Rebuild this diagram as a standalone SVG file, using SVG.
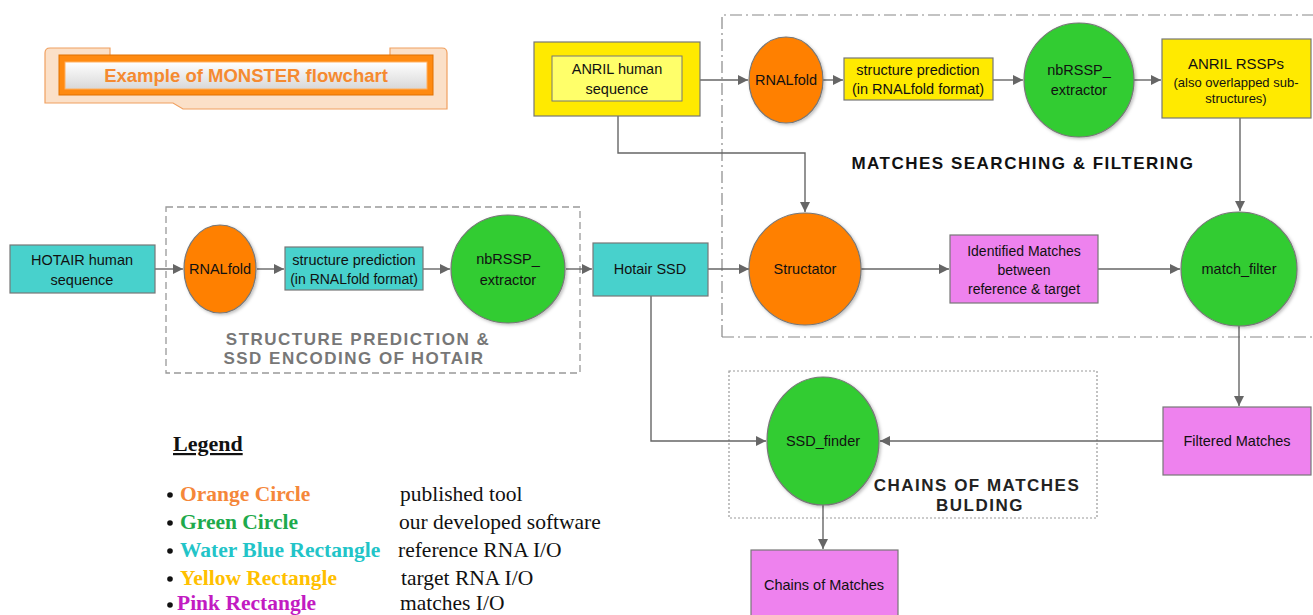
<svg xmlns="http://www.w3.org/2000/svg" width="1313" height="615" viewBox="0 0 1313 615">
<defs>
<marker id="arr" viewBox="0 0 10 10" refX="10" refY="5" markerWidth="10" markerHeight="10" markerUnits="userSpaceOnUse" orient="auto">
<path d="M0,0 L10,5 L0,10 z" fill="#666"/>
</marker>
<linearGradient id="gw" x1="0" y1="0" x2="0" y2="1">
<stop offset="0" stop-color="#ffffff"/>
<stop offset="1" stop-color="#d8d8d8"/>
</linearGradient>
<filter id="sh" x="-20%" y="-20%" width="140%" height="140%">
<feDropShadow dx="1.5" dy="1.5" stdDeviation="1.5" flood-color="#000" flood-opacity="0.25"/>
</filter>
</defs>
<style>
.t{font-family:"Liberation Sans",Arial,sans-serif;font-size:14.5px;fill:#111;text-anchor:middle}
.box{stroke:#777;stroke-width:1.2}
.cy{fill:#48d1cc}
.ye{fill:#ffea00}
.pk{fill:#ee82ee}
.or{fill:#ff8000;stroke:#777;stroke-width:1.2;filter:url(#sh)}
.gr{fill:#33cc33;stroke:#777;stroke-width:1.2;filter:url(#sh)}
.ca{fill:none;stroke:#666;stroke-width:1.4;marker-end:url(#arr)}
.grp{font-family:"Liberation Sans",Arial,sans-serif;font-weight:bold;font-size:17px;letter-spacing:1.5px;text-anchor:middle}
.lg{font-family:"Liberation Serif","Times New Roman",serif;font-size:21.5px}
.lb{font-weight:bold}
</style>
<rect width="1313" height="615" fill="#ffffff"/>

<!-- title banner -->
<g id="title">
<path d="M50,48 H110 V56 H390 V48 H442 Q447,48 447,53 V109 H183 L173,103 H45 V53 Q45,48 50,48 Z" fill="#fbe0c8" stroke="#f0a060" stroke-width="1.2"/>
<rect x="59" y="55" width="374" height="40" fill="#ff8a10" stroke="#e07000" stroke-width="1"/>
<rect x="65" y="62" width="362" height="27" fill="url(#gw)" stroke="#ffb060" stroke-width="1"/>
<text x="246" y="82" font-family="Liberation Sans,Arial,sans-serif" font-weight="bold" font-size="18.5" fill="#f58a30" text-anchor="middle">Example of MONSTER flowchart</text>
</g>

<!-- group frames -->
<g id="frames">
<rect x="166" y="207" width="414" height="166" fill="none" stroke="#999" stroke-width="1.3" stroke-dasharray="7,4"/>
<text class="grp" x="358" y="345" fill="#777">STRUCTURE PREDICTION &amp;</text>
<text class="grp" x="354" y="364" fill="#777">SSD ENCODING OF HOTAIR</text>
<path d="M722,337 V15 H1313 M722,337 H1313" fill="none" stroke="#888" stroke-width="1.2" stroke-dasharray="12,4,2,4"/>
<text class="grp" x="1023" y="169" fill="#111">MATCHES SEARCHING &amp; FILTERING</text>
<rect x="729" y="371" width="368" height="147" fill="none" stroke="#999" stroke-width="1.2" stroke-dasharray="2,2"/>
<text class="grp" x="977" y="491" fill="#222">CHAINS OF MATCHES</text>
<text class="grp" x="980" y="511" fill="#222">BULDING</text>
</g>

<!-- connectors -->
<g id="connectors">
<line class="ca" x1="155" y1="269" x2="183" y2="269"/>
<line class="ca" x1="257" y1="269" x2="284" y2="269"/>
<line class="ca" x1="423" y1="269" x2="450" y2="269"/>
<line class="ca" x1="566" y1="269" x2="592" y2="269"/>
<line class="ca" x1="708" y1="269" x2="749" y2="269"/>
<line class="ca" x1="861" y1="269" x2="949" y2="269"/>
<line class="ca" x1="1098" y1="269" x2="1180" y2="269"/>
<line class="ca" x1="700" y1="80" x2="748" y2="80"/>
<line class="ca" x1="823" y1="80" x2="843" y2="80"/>
<line class="ca" x1="993" y1="80" x2="1023" y2="80"/>
<line class="ca" x1="1134" y1="80" x2="1161" y2="80"/>
<polyline class="ca" points="1240,118 1240,211"/>
<polyline class="ca" points="618,116 618,153 805,153 805,212"/>
<polyline class="ca" points="1239,326 1239,406"/>
<line class="ca" x1="1163" y1="441" x2="880" y2="441"/>
<polyline class="ca" points="651,296 651,441 766,441"/>
<line class="ca" x1="823" y1="505" x2="823" y2="549"/>
</g>

<!-- HOTAIR row -->
<g id="hotair_seq">
<rect class="box cy" x="10" y="245" width="145" height="48"/>
<text class="t" x="82" y="265">HOTAIR human</text>
<text class="t" x="82" y="285">sequence</text>
</g>
<g id="rnalfold_hotair">
<ellipse class="or" cx="220" cy="269" rx="36" ry="44"/>
<text class="t" x="220" y="274">RNALfold</text>
</g>
<g id="struct_pred_hotair">
<rect class="box cy" x="285" y="247" width="138" height="43"/>
<text class="t" x="354" y="265">structure prediction</text>
<text class="t" x="354" y="284" style="font-size:14px">(in RNALfold format)</text>
</g>
<g id="nbrssp_hotair">
<ellipse class="gr" cx="508" cy="269" rx="57" ry="54"/>
<text class="t" x="508" y="264">nbRSSP_</text>
<text class="t" x="508" y="285">extractor</text>
</g>
<g id="hotair_ssd">
<rect class="box cy" x="593" y="243" width="115" height="53"/>
<text class="t" x="650" y="274">Hotair SSD</text>
</g>

<!-- ANRIL row -->
<g id="anril_seq">
<rect class="box ye" x="534" y="42" width="166" height="74"/>
<rect x="552" y="56" width="130" height="45" fill="#ffff6a" stroke="#777" stroke-width="1"/>
<text class="t" x="617" y="74">ANRIL human</text>
<text class="t" x="617" y="94">sequence</text>
</g>
<g id="rnalfold_anril">
<ellipse class="or" cx="786" cy="80" rx="37" ry="43"/>
<text class="t" x="786" y="85">RNALfold</text>
</g>
<g id="struct_pred_anril">
<rect class="box ye" x="844" y="58" width="149" height="42"/>
<text class="t" x="918" y="75">structure prediction</text>
<text class="t" x="918" y="94">(in RNALfold format)</text>
</g>
<g id="nbrssp_anril">
<ellipse class="gr" cx="1079" cy="80" rx="55" ry="57"/>
<text class="t" x="1079" y="75">nbRSSP_</text>
<text class="t" x="1079" y="95">extractor</text>
</g>
<g id="anril_rssps">
<rect class="box ye" x="1162" y="39" width="149" height="79"/>
<text class="t" x="1236" y="69" style="font-size:15px">ANRIL RSSPs</text>
<text class="t" x="1236" y="87" style="font-size:13px">(also overlapped sub-</text>
<text class="t" x="1236" y="103" style="font-size:13px">structures)</text>
</g>

<!-- matching row -->
<g id="structator">
<ellipse class="or" cx="805" cy="269" rx="56" ry="56"/>
<text class="t" x="805" y="274">Structator</text>
</g>
<g id="identified_matches">
<rect class="box pk" x="950" y="235" width="148" height="68"/>
<text class="t" x="1024" y="256" style="font-size:14px">Identified Matches</text>
<text class="t" x="1024" y="275" style="font-size:14px">between</text>
<text class="t" x="1024" y="294" style="font-size:14px">reference &amp; target</text>
</g>
<g id="match_filter">
<ellipse class="gr" cx="1239" cy="269" rx="58" ry="57"/>
<text class="t" x="1239" y="274">match_filter</text>
</g>
<g id="filtered_matches">
<rect class="box pk" x="1163" y="407" width="148" height="68"/>
<text class="t" x="1237" y="446">Filtered Matches</text>
</g>
<g id="ssd_finder">
<ellipse class="gr" cx="823" cy="441" rx="56" ry="64"/>
<text class="t" x="823" y="446">SSD_finder</text>
</g>
<g id="chains_of_matches">
<rect class="box pk" x="751" y="550" width="147" height="70"/>
<text class="t" x="824" y="590">Chains of Matches</text>
</g>

<!-- legend -->
<g id="legend" class="lg">
<text x="173" y="451" class="lb" style="font-size:22px" text-decoration="underline" fill="#111">Legend</text>
<g fill="#111">
<circle cx="170" cy="495" r="2.8"/>
<circle cx="170" cy="523" r="2.8"/>
<circle cx="170" cy="551" r="2.8"/>
<circle cx="170" cy="579" r="2.8"/>
<circle cx="170" cy="605" r="2.8"/>
</g>
<text x="180" y="501" class="lb" fill="#f5873a">Orange Circle</text>
<text x="180" y="529" class="lb" fill="#1eaa4c">Green Circle</text>
<text x="180" y="557" class="lb" fill="#22c4c8">Water Blue Rectangle</text>
<text x="180" y="585" class="lb" fill="#ffc000">Yellow Rectangle</text>
<text x="177" y="610" class="lb" fill="#c21bc2">Pink Rectangle</text>
<text x="400" y="501" fill="#111">published tool</text>
<text x="399" y="529" fill="#111">our developed software</text>
<text x="398" y="557" fill="#111">reference RNA I/O</text>
<text x="401" y="585" fill="#111">target RNA I/O</text>
<text x="400" y="610" fill="#111">matches I/O</text>
</g>
</svg>
